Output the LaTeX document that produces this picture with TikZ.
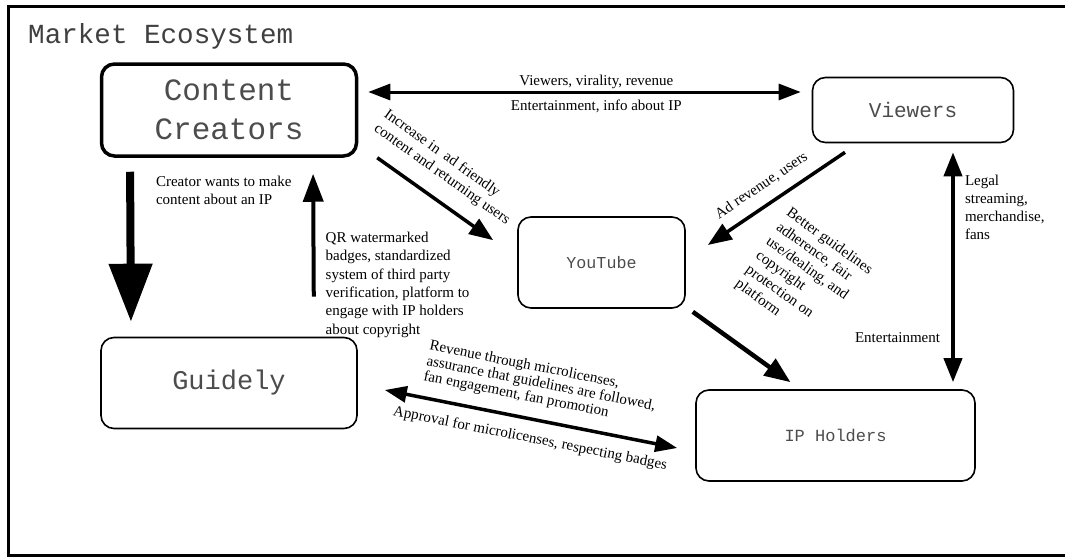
\documentclass[tikz,border=0pt]{standalone}
\usepackage{fontspec}
\setmainfont{Liberation Serif}
\setmonofont{Liberation Mono}
\usetikzlibrary{arrows.meta,positioning}

\begin{document}
\begin{tikzpicture}[x=1pt, y=-1pt]
    % Define block styles
    \tikzstyle{block} = [rectangle, draw, line width=1.6pt, rounded corners=13pt,
        text=black!70, align=center]
    \tikzstyle{line} = [draw, line width=3.5pt, -{Triangle[width=18pt,length=24pt]}]
    \tikzstyle{backline} = [draw, line width=3.5pt, {Triangle[width=18pt,length=24pt]}-]
    \tikzstyle{dline} = [draw, line width=3pt, {Triangle[width=16pt,length=22pt]}-{Triangle[width=16pt,length=22pt]}]
    \tikzstyle{lbl} = [font=\fontsize{15}{18}\selectfont, inner sep=2pt]

    \useasboundingbox (0,0) rectangle (1065,557);
    \draw [line width=3pt] (1065,6) -- (8,6) -- (8,555) -- (1065,555); % frame

    % Place nodes
    \node [anchor=base west, inner sep=0pt, text=black!75,
        font=\fontsize{27.6}{30}\selectfont\ttfamily] (title) at (28,43) {Market Ecosystem};
    \node [block, line width=3.5pt, minimum width=255pt, minimum height=92pt,
        font=\fontsize{31}{39}\selectfont\ttfamily] (creators) at (229,110) {Content\\Creators};
    \node [block, below of=creators, node distance=273pt, minimum width=256pt, minimum height=91pt,
        font=\fontsize{27}{32}\selectfont\ttfamily] (guidely) {Guidely};
    \node [block, right of=creators, node distance=684pt, minimum width=201pt, minimum height=65pt,
        font=\fontsize{21}{25}\selectfont\ttfamily] (viewers) {Viewers};
    \node [block, minimum width=167pt, minimum height=91pt,
        font=\fontsize{16.7}{20}\selectfont\ttfamily] (youtube) at (601.5,262.5) {YouTube};
    \node [block, minimum width=279pt, minimum height=91pt,
        font=\fontsize{17}{20}\selectfont\ttfamily] (ipholders) at (835.5,435.5) {IP Holders};

    % Draw arrows
    \path [draw, line width=8pt, -{Triangle[width=42pt,length=58pt]}, shorten <=14pt, shorten >=15pt]
        ([xshift=-99pt]creators.south) -- ([xshift=-98pt]guidely.north)
        node [lbl, pos=0.07, right=20pt, anchor=north west, align=left] {Creator wants to make\\content about an IP};
    \path [line, line width=4pt, -{Triangle[width=20pt,length=28pt]}, shorten <=40pt, shorten >=16pt]
        ([xshift=85pt]guidely.north) -- ([xshift=84pt]creators.south)
        node [lbl, font=\fontsize{15}{18.4}\selectfont, pos=0.29, right=8pt, align=left]
        {QR watermarked\\badges, standardized\\system of third party\\verification, platform to\\engage with IP holders\\about copyright};
    \path [dline, shorten <=10pt, shorten >=11pt] ([yshift=18pt]creators.east) -- ([yshift=18pt]viewers.west)
        node [lbl, pos=0.525, above] {Viewers, virality, revenue}
        node [lbl, pos=0.525, below=4pt] {Entertainment, info about IP};
    \path [line] ([xshift=19pt,yshift=0pt]creators.south east) -- ([xshift=-24pt,yshift=-24pt]youtube.north west)
        node [lbl, font=\fontsize{15}{17}\selectfont, pos=0.44, sloped, above=13pt, align=left]
        {Increase in~ ad friendly\\content and returning users};
    \path [backline] ([xshift=22pt,yshift=17.5pt]youtube.east) -- ([xshift=-68pt,yshift=-9pt]viewers.south)
        node [lbl, pos=0.47, sloped, above=9pt] {Ad revenue, users};
    \path [line, line width=4.5pt, -{Triangle[width=20pt,length=26pt]}]
        ([xshift=7pt,yshift=-3pt]youtube.south east) -- ([xshift=-45pt,yshift=7pt]ipholders.north)
        node [lbl, font=\fontsize{15}{17.5}\selectfont, pos=0.58, sloped, above=38pt, align=left]
        {Better guidelines\\adherence, fair\\use/dealing, and\\copyright\\protection on\\platform};
    \path [dline, line width=4pt, {Triangle[width=18pt,length=24pt]}-{Triangle[width=18pt,length=24pt]},
        shorten <=9pt, shorten >=7pt]
        ([xshift=40pt]viewers.south) -- ([xshift=117.5pt]ipholders.north)
        node [lbl, pos=0.26, right=8pt, align=left] {Legal\\streaming,\\merchandise,\\fans}
        node [lbl, pos=0.79, left=9pt] {Entertainment};
    \path [dline, line width=3.5pt] ([xshift=27pt,yshift=-7pt]guidely.east) -- ([xshift=-18pt,yshift=-12.5pt]ipholders.west)
        node [lbl, font=\fontsize{15}{15.5}\selectfont, pos=0.51, sloped, above=10pt, align=left]
        {Revenue through microlicenses,\\assurance that guidelines are followed,\\fan engagement, fan promotion}
        node [lbl, pos=0.51, sloped, below=9pt] {Approval for microlicenses, respecting badges};

\end{tikzpicture}
\end{document}
